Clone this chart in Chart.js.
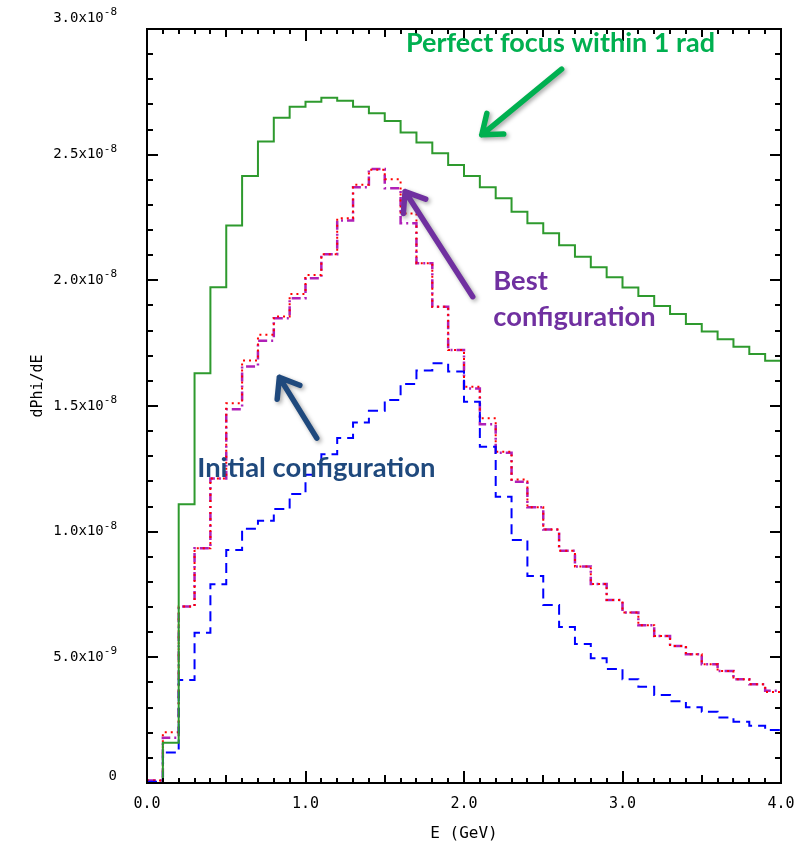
<!DOCTYPE html>
<html>
<head>
<meta charset="utf-8">
<script src="https://cdn.jsdelivr.net/npm/chart.js@4.4.1/dist/chart.umd.min.js"></script>
<style>
  html, body { margin: 0; padding: 0; background: #fff; }
  canvas { display: block; }
</style>
</head>
<body>
<canvas id="chart" width="810" height="849"></canvas>
<script>
// Bin edges in GeV (40 bins of 0.1 GeV)
const binEdges = [0.0, 0.1, 0.2, 0.3, 0.4, 0.5, 0.6, 0.7, 0.8, 0.9,
                  1.0, 1.1, 1.2, 1.3, 1.4, 1.5, 1.6, 1.7, 1.8, 1.9,
                  2.0, 2.1, 2.2, 2.3, 2.4, 2.5, 2.6, 2.7, 2.8, 2.9,
                  3.0, 3.1, 3.2, 3.3, 3.4, 3.5, 3.6, 3.7, 3.8, 3.9, 4.0];

// dPhi/dE per bin, in units of 1e-8
const perfectFocus = [0.0, 0.160, 1.109, 1.630, 1.972, 2.218, 2.415, 2.552, 2.647, 2.691,
                      2.711, 2.726, 2.715, 2.691, 2.665, 2.634, 2.588, 2.548, 2.506, 2.459,
                      2.415, 2.370, 2.327, 2.273, 2.227, 2.187, 2.140, 2.094, 2.052, 2.012,
                      1.971, 1.938, 1.898, 1.866, 1.826, 1.796, 1.766, 1.736, 1.707, 1.680];

const initialConfig = [0.005, 0.121, 0.410, 0.598, 0.791, 0.927, 1.012, 1.043, 1.090, 1.150,
                       1.226, 1.308, 1.373, 1.434, 1.481, 1.524, 1.588, 1.641, 1.670, 1.637,
                       1.517, 1.338, 1.139, 0.967, 0.824, 0.708, 0.621, 0.553, 0.496, 0.454,
                       0.413, 0.383, 0.350, 0.325, 0.301, 0.283, 0.261, 0.244, 0.228, 0.211];

const bestConfigA = [0.010, 0.202, 0.702, 0.934, 1.212, 1.511, 1.681, 1.783, 1.856, 1.946,
                     2.021, 2.104, 2.247, 2.380, 2.440, 2.402, 2.266, 2.068, 1.895, 1.723,
                     1.577, 1.451, 1.318, 1.208, 1.097, 1.009, 0.924, 0.861, 0.792, 0.728,
                     0.678, 0.628, 0.585, 0.545, 0.512, 0.472, 0.446, 0.413, 0.393, 0.362];

const bestConfigB = [0.010, 0.180, 0.702, 0.934, 1.212, 1.487, 1.657, 1.760, 1.849, 1.929,
                     2.008, 2.104, 2.238, 2.370, 2.443, 2.366, 2.227, 2.068, 1.895, 1.723,
                     1.570, 1.427, 1.314, 1.199, 1.097, 1.009, 0.924, 0.861, 0.792, 0.728,
                     0.678, 0.628, 0.585, 0.545, 0.512, 0.472, 0.446, 0.413, 0.393, 0.367];

// tick labels (y: mantissa part, exponent part)
const xTickValues = [0, 1, 2, 3, 4];
const xTickLabels = ['0.0', '1.0', '2.0', '3.0', '4.0'];
const yTickValues = [0, 0.5, 1.0, 1.5, 2.0, 2.5, 3.0];
const yTickBase = ['0', '5.0x10', '1.0x10', '1.5x10', '2.0x10', '2.5x10', '3.0x10'];
const yTickExp = ['', '-9', '-8', '-8', '-8', '-8', '-8'];

const xTitle = 'E (GeV)';
const yTitle = 'dPhi/dE';

// histogram -> step points at left bin edges, plus closing point at 4.0
function histo(vals) {
    return binEdges.map((x, i) => ({ x: x, y: vals[Math.min(i, vals.length - 1)] }));
}

function lookup(values, labels, v) {
    const i = values.findIndex(t => Math.abs(t - v) < 1e-6);
    return i >= 0 ? labels[i] : '';
}

const monoFont = 'DejaVu Sans Mono';

// frame + inward ticks on all four sides, y labels with superscript, y title
const frameTicks = {
    id: 'frameTicks',
    afterDatasetsDraw(chart) {
        const { ctx, chartArea: a, scales: { x, y } } = chart;
        ctx.save();
        ctx.strokeStyle = '#000';
        ctx.lineWidth = 2;
        ctx.strokeRect(a.left, a.top, a.right - a.left, a.bottom - a.top);
        ctx.beginPath();
        for (let k = 1; k < 40; k++) {
            const px = Math.round(x.getPixelForValue(k / 10));
            const len = k % 10 === 0 ? 12 : (k % 5 === 0 ? 8 : 5);
            ctx.moveTo(px, a.bottom); ctx.lineTo(px, a.bottom - len);
            ctx.moveTo(px, a.top); ctx.lineTo(px, a.top + len);
        }
        for (let k = 1; k < 30; k++) {
            const py = Math.round(y.getPixelForValue(k / 10));
            const len = k % 5 === 0 ? 11 : 6;
            ctx.moveTo(a.left, py); ctx.lineTo(a.left + len, py);
            ctx.moveTo(a.right, py); ctx.lineTo(a.right - len, py);
        }
        ctx.stroke();

        // y tick labels
        ctx.fillStyle = '#000';
        ctx.textBaseline = 'middle';
        ctx.textAlign = 'right';
        const right = a.left - 30;
        yTickValues.forEach((v, i) => {
            let py = y.getPixelForValue(v);
            if (i === 0) py -= 7;
            if (i === yTickValues.length - 1) py -= 11;
            ctx.font = '11px "' + monoFont + '"';
            const ew = ctx.measureText(yTickExp[i]).width;
            ctx.fillText(yTickExp[i], right, py - 6);
            ctx.font = '14px "' + monoFont + '"';
            ctx.fillText(yTickBase[i], right - ew, py);
        });

        // y title, rotated
        ctx.font = '15px "' + monoFont + '"';
        ctx.translate(38, 386);
        ctx.rotate(-Math.PI / 2);
        ctx.textAlign = 'center';
        ctx.fillText(yTitle, 0, 0);
        ctx.restore();
    }
};

// annotations (positions in data units: GeV, 1e-8)
const notes = [
    { text: ['Perfect focus within 1 rad'], x: 1.634, y: [2.910], width: 309, color: '#00B050',
      arrow: { from: [2.616, 2.840], to: [2.112, 2.579] } },
    { text: ['Best', 'configuration'], x: 2.185, y: [1.962, 1.820], width: 162, color: '#7030A0',
      arrow: { from: [2.055, 1.935], to: [1.628, 2.353] } },
    { text: ['Initial configuration'], x: 0.317, y: [1.216], width: 238, color: '#1F497D',
      arrow: { from: [1.071, 1.372], to: [0.835, 1.614] } }
];

const annotate = {
    id: 'annotate',
    afterDraw(chart) {
        const { ctx, scales: { x, y } } = chart;
        ctx.save();
        notes.forEach(n => {
            // font size from widest line
            ctx.font = 'bold 100px Lato';
            const longest = n.text.reduce((a, b) => (b.length > a.length ? b : a));
            const size = 100 * n.width / ctx.measureText(longest).width;
            ctx.font = 'bold ' + size.toFixed(1) + 'px Lato';
            ctx.fillStyle = n.color;
            ctx.textAlign = 'left';
            ctx.textBaseline = 'alphabetic';
            n.text.forEach((t, i) => ctx.fillText(t, x.getPixelForValue(n.x), y.getPixelForValue(n.y[i])));

            const x0 = x.getPixelForValue(n.arrow.from[0]), y0 = y.getPixelForValue(n.arrow.from[1]);
            const x1 = x.getPixelForValue(n.arrow.to[0]), y1 = y.getPixelForValue(n.arrow.to[1]);
            const ang = Math.atan2(y0 - y1, x0 - x1);
            const head = 22, spread = 0.65;
            ctx.save();
            ctx.shadowColor = 'rgba(0,0,0,0.35)';
            ctx.shadowBlur = 4;
            ctx.shadowOffsetX = 2;
            ctx.shadowOffsetY = 2;
            ctx.strokeStyle = n.color;
            ctx.lineWidth = 5.5;
            ctx.lineCap = 'round';
            ctx.lineJoin = 'round';
            ctx.beginPath();
            ctx.moveTo(x0, y0);
            ctx.lineTo(x1, y1);
            ctx.moveTo(x1 + head * Math.cos(ang - spread), y1 + head * Math.sin(ang - spread));
            ctx.lineTo(x1, y1);
            ctx.lineTo(x1 + head * Math.cos(ang + spread), y1 + head * Math.sin(ang + spread));
            ctx.stroke();
            ctx.restore();
        });
        ctx.restore();
    }
};

const ctx = document.getElementById('chart').getContext('2d');
const chart = new Chart(ctx, {
    type: 'line',
    data: {
        datasets: [
            { label: 'Perfect focus within 1 rad', data: histo(perfectFocus),
              borderColor: '#2E9A2E', borderWidth: 2 },
            { label: 'Initial configuration', data: histo(initialConfig),
              borderColor: '#0000FF', borderWidth: 2, borderDash: [10, 6] },
            { label: 'Best configuration (a)', data: histo(bestConfigA),
              borderColor: '#FF0000', borderWidth: 2, borderDash: [2, 4] },
            { label: 'Best configuration (b)', data: histo(bestConfigB),
              borderColor: '#B020B8', borderWidth: 2.5, borderDash: [9, 4, 2, 4] }
        ]
    },
    options: {
        responsive: false,
        animation: false,
        layout: { padding: { top: 29, right: 29, left: 0, bottom: 0 } },
        elements: {
            point: { radius: 0 },
            line: { stepped: 'before', tension: 0, fill: false }
        },
        plugins: {
            legend: { display: false },
            tooltip: { enabled: false }
        },
        scales: {
            x: {
                type: 'linear',
                min: 0,
                max: 4,
                afterBuildTicks: s => { s.ticks = xTickValues.map(v => ({ value: v })); },
                afterFit: s => { s.height = 66; },
                grid: { display: false, drawTicks: false },
                border: { display: false },
                ticks: {
                    maxRotation: 0,
                    padding: 12,
                    color: '#000',
                    font: { family: monoFont, size: 15 },
                    callback: v => lookup(xTickValues, xTickLabels, v)
                },
                title: {
                    display: true,
                    text: xTitle,
                    color: '#000',
                    font: { family: monoFont, size: 16 },
                    padding: { top: 0, bottom: 6 }
                }
            },
            y: {
                type: 'linear',
                min: 0,
                max: 3,
                afterBuildTicks: s => { s.ticks = yTickValues.map(v => ({ value: v })); },
                afterFit: s => { s.width = 147; },
                grid: { display: false, drawTicks: false },
                border: { display: false },
                ticks: { display: false }
            }
        }
    },
    plugins: [frameTicks, annotate]
});
</script>
</body>
</html>
